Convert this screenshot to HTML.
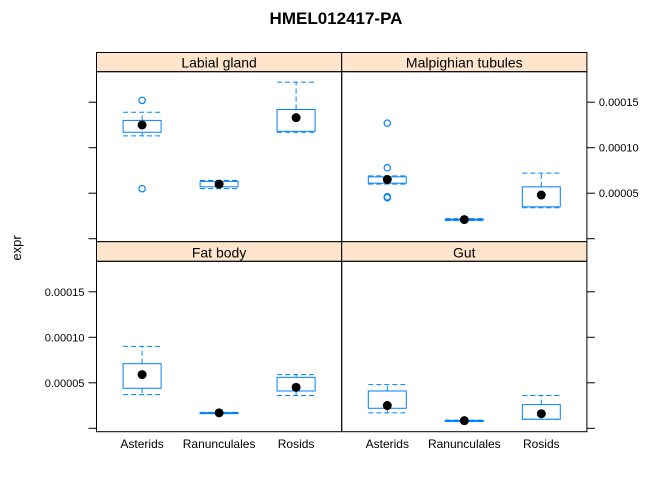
<!DOCTYPE html>
<html><head><meta charset="utf-8"><style>
html,body{margin:0;padding:0;background:#fff}
svg text{font-family:"Liberation Sans",Arial,sans-serif}
</style></head><body>
<svg id="chart" width="672" height="480" viewBox="0 0 672 480" xmlns="http://www.w3.org/2000/svg">
<text x="336" y="24" font-size="17" font-weight="bold" text-anchor="middle">HMEL012417-PA</text>
<text x="0" y="0" font-size="13" text-anchor="middle" transform="translate(21,248) rotate(-90)">expr</text>
<g id="plot"></g>
</svg>
<script>
// values in units of 1e-5
const categories = ["Asterids","Ranunculales","Rosids"];
const panels = ["Labial gland","Malpighian tubules","Fat body","Gut"];
const yTicks = [0, 5, 10, 15];
const yTickLabels = ["0","0.00005","0.00010","0.00015"];
// [lowerCap, boxBottom, median, boxTop, upperCap]
const labialStats = [[11.3,11.7,12.5,13.0,13.9],[5.5,5.7,6.0,6.3,6.4],[11.7,11.8,13.3,14.2,17.2]];
const labialOut = [[15.2,5.5],[],[]];
const malpStats = [[6.0,6.1,6.5,6.8,6.9],[2.0,2.05,2.1,2.15,2.2],[3.4,3.5,4.8,5.7,7.2]];
const malpOut = [[12.7,7.8,4.5,4.6],[],[]];
const fatStats = [[3.7,4.4,5.9,7.1,9.0],[1.65,1.68,1.7,1.72,1.75],[3.6,4.1,4.5,5.6,5.9]];
const fatOut = [[],[],[]];
const gutStats = [[1.7,2.2,2.5,4.1,4.8],[0.78,0.8,0.84,0.86,0.9],[1.0,1.0,1.6,2.6,3.6]];
const gutOut = [[],[],[]];

const NS="http://www.w3.org/2000/svg";
const plot=document.getElementById('plot');
function mk(tag,attrs,parent){const e=document.createElementNS(NS,tag);for(const k in attrs)e.setAttribute(k,attrs[k]);(parent||plot).appendChild(e);return e;}
const blue="#0080ff";
const colX=[96.5,341.7], W=245.2;
const rows=[{strip:52.5,top:71.7,bottom:241.7,zero:238.7},{strip:241.7,top:261.3,bottom:431.7,zero:428.3}];
const pxPerUnit=45.5/5;
const stats=[labialStats,malpStats,fatStats,gutStats];
const outs=[labialOut,malpOut,fatOut,gutOut];
const step=77;
function xScale(c,i){return colX[c]+W/2+(i-(categories.length-1)/2)*step;}

panels.forEach((name,p)=>{
  const c=p%2, r=Math.floor(p/2), R=rows[r];
  const y=v=>R.zero-v*pxPerUnit;
  const g=mk('g',{});
  
  
  const strip=mk('rect',{x:colX[c],y:R.strip,width:W,height:R.top-R.strip,fill:"#ffe5cc",stroke:"#000","stroke-width":1},g);
  
  
  const st=mk('text',{x:colX[c]+W/2,y:R.top-4,"font-size":14,"text-anchor":"middle"},g);
  st.textContent=name;
  
  
  const fr=mk('rect',{x:colX[c],y:R.top,width:W,height:R.bottom-R.top,fill:"none",stroke:"#000","stroke-width":1},g);
  
  
  yTicks.forEach((t,k)=>{
    const yy=y(t);
    if(c===0){
      const tl=mk('line',{x1:colX[0]-8,x2:colX[0],y1:yy,y2:yy,stroke:"#000"},g);
      
      
      if(r===1&&k>0){const tx=mk('text',{x:colX[0]-12,y:yy+4,"font-size":11,"text-anchor":"end"},g);tx.textContent=yTickLabels[k];
        
        }
    } else {
      const xr=colX[1]+W;
      const tl=mk('line',{x1:xr,x2:xr+8,y1:yy,y2:yy,stroke:"#000"},g);
      
      
      if(r===0&&k>0){const tx=mk('text',{x:xr+12,y:yy+4,"font-size":11},g);tx.textContent=yTickLabels[k];
        
        }
    }
  });
  categories.forEach((cat,i)=>{
    const s=stats[p][i], cx=xScale(c,i), hw=19;
    const bg=mk('g',{},g);
    
    
    const dash={stroke:blue,"stroke-width":1,"stroke-dasharray":"5,3",fill:"none"};
    mk('line',Object.assign({x1:cx,x2:cx,y1:y(s[3]),y2:y(s[4])},dash),bg);
    mk('line',Object.assign({x1:cx,x2:cx,y1:y(s[1]),y2:y(s[0])},dash),bg);
    mk('line',Object.assign({x1:cx-hw,x2:cx+hw,y1:y(s[4]),y2:y(s[4])},dash),bg);
    mk('line',Object.assign({x1:cx-hw,x2:cx+hw,y1:y(s[0]),y2:y(s[0])},dash),bg);
    mk('rect',{x:cx-hw,y:y(s[3]),width:2*hw,height:Math.max(1,y(s[1])-y(s[3])),fill:"#fff",stroke:blue,"stroke-width":1},bg);
    outs[p][i].forEach(v=>{
      const o=mk('circle',{cx:cx,cy:y(v),r:3.2,fill:"none",stroke:blue,"stroke-width":1.2},bg);
      
      
    });
    const m=mk('circle',{cx:cx,cy:y(s[2]),r:4.5,fill:"#000"},bg);
    
    
    if(r===1){
      const xl=mk('text',{x:cx,y:448,"font-size":12,"text-anchor":"middle"},g);
      xl.textContent=cat;
      
      
    }
  });
});
</script>
</body></html>
